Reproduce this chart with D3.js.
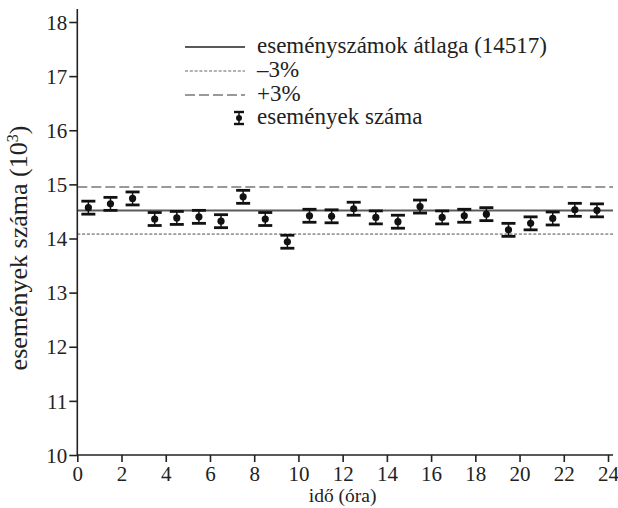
<!DOCTYPE html>
<html><head><meta charset="utf-8">
<script src="https://cdn.jsdelivr.net/npm/d3@7"></script>
<style>
body{margin:0;background:#fff;}
svg text{font-family:"Liberation Serif","DejaVu Serif",serif;fill:#222;}
</style></head>
<body><svg id="c" width="618" height="508" font-family="Liberation Serif"></svg>
<script>
const hours = [0.5,1.5,2.5,3.5,4.5,5.5,6.5,7.5,8.5,9.5,10.5,11.5,12.5,13.5,14.5,15.5,16.5,17.5,18.5,19.5,20.5,21.5,22.5,23.5];
const counts = [14.57,14.64,14.74,14.36,14.38,14.40,14.32,14.77,14.36,13.94,14.42,14.41,14.55,14.39,14.31,14.59,14.39,14.42,14.45,14.16,14.28,14.37,14.53,14.52];
const errors = [0.12,0.12,0.12,0.12,0.12,0.12,0.12,0.12,0.12,0.12,0.12,0.12,0.12,0.12,0.12,0.12,0.12,0.12,0.12,0.12,0.12,0.12,0.12,0.12];
const meanValue = 14.517;
const minus3 = 14.0815;
const plus3 = 14.9525;
const xTicks = [0,2,4,6,8,10,12,14,16,18,20,22,24];
const yTicks = [10,11,12,13,14,15,16,17,18];
const legendLabels = ["eseményszámok átlaga (14517)","–3%","+3%","események száma"];
const xTitle = "idő (óra)";
const yTitle = "események száma (10";

const svg = d3.select("#c");
const x = d3.scaleLinear().domain([0,24]).range([77.3,608]);
const y = d3.scaleLinear().domain([10,18]).range([455,22]);
const tickFs = 21, legFs = 23, yTitleFs = 26, xTitleFs = 19.5;

// reference lines
const refs = [
  {v:meanValue, color:"#5a5a5a", w:2.2, dash:null},
  {v:minus3, color:"#999", w:1.6, dash:"3,1.8"},
  {v:plus3, color:"#999", w:2, dash:"10,4"}
];
svg.selectAll("line.ref").data(refs).enter().append("line")
  .attr("x1",x(0)).attr("x2",613)
  .attr("y1",d=>y(d.v)).attr("y2",d=>y(d.v))
  .attr("stroke",d=>d.color).attr("stroke-width",d=>d.w)
  .attr("stroke-dasharray",d=>d.dash);

// error bars
const pts = hours.map((h,i)=>({h, v:counts[i], e:errors[i]}));
const g = svg.append("g");
const capW = 7;
pts.forEach(p=>{
  const cx = x(p.h);
  g.append("line").attr("x1",cx).attr("x2",cx).attr("y1",y(p.v+p.e)).attr("y2",y(p.v-p.e)).attr("stroke","#111").attr("stroke-width",1.5);
  [p.v+p.e,p.v-p.e].forEach(v=>{
    g.append("line").attr("x1",cx-capW).attr("x2",cx+capW).attr("y1",y(v)).attr("y2",y(v)).attr("stroke","#111").attr("stroke-width",2.8);
  });
  g.append("circle").attr("cx",cx).attr("cy",y(p.v)).attr("r",3.6).attr("fill","#111");
});

// axes
const xAxis = svg.append("g").attr("transform","translate(0,455)")
  .call(d3.axisBottom(x).tickValues(xTicks).tickSize(7).tickPadding(4).tickFormat(d3.format("d")));
xAxis.select(".domain").attr("d","M77.3,0H613");
const yAxis = svg.append("g").attr("transform","translate(77.3,0)")
  .call(d3.axisLeft(y).tickValues(yTicks).tickSize(8).tickPadding(2).tickFormat(d3.format("d")));
yAxis.select(".domain").attr("d","M0,455V9");
xAxis.attr("font-family",null).attr("font-size",null);
yAxis.attr("font-family",null).attr("font-size",null);
svg.selectAll(".tick text").style("font-size",tickFs+"px").style("font-family","'Liberation Serif', serif").attr("fill","#222");
svg.selectAll(".domain, .tick line").attr("stroke","#222").attr("stroke-width",1.6);
yAxis.selectAll(".tick text").attr("dy","0.34em");

// titles
svg.append("text").attr("x",x(12)).attr("y",502).attr("text-anchor","middle").style("font-size",xTitleFs+"px").text(xTitle);
const yt = svg.append("text").attr("transform","translate(27,248) rotate(-90)").attr("text-anchor","middle").style("font-size",yTitleFs+"px");
yt.append("tspan").text(yTitle);
yt.append("tspan").attr("dy",-9).style("font-size","16px").text("3");
yt.append("tspan").attr("dy",9).text(")");

// legend
const lx1 = 185, lx2 = 245, tx = 257;
const rows = [47, 71, 95, 118];
refs.forEach((r,i)=>{
  svg.append("line").attr("x1",lx1).attr("x2",lx2).attr("y1",rows[i]).attr("y2",rows[i])
    .attr("stroke",r.color).attr("stroke-width",r.w).attr("stroke-dasharray",r.dash);
});
legendLabels.forEach((t,i)=>{
  svg.append("text").attr("x", tx).attr("y",rows[i]+6).style("font-size",legFs+"px").text(t);
});
// legend error-bar icon
const icx = 239, icy = rows[3];
svg.append("line").attr("x1",icx).attr("x2",icx).attr("y1",icy-6).attr("y2",icy+6).attr("stroke","#111").attr("stroke-width",1.5);
[icy-6,icy+6].forEach(v=>svg.append("line").attr("x1",icx-5).attr("x2",icx+5).attr("y1",v).attr("y2",v).attr("stroke","#111").attr("stroke-width",2.4));
svg.append("circle").attr("cx",icx).attr("cy",icy).attr("r",3).attr("fill","#111");
</script></body></html>
